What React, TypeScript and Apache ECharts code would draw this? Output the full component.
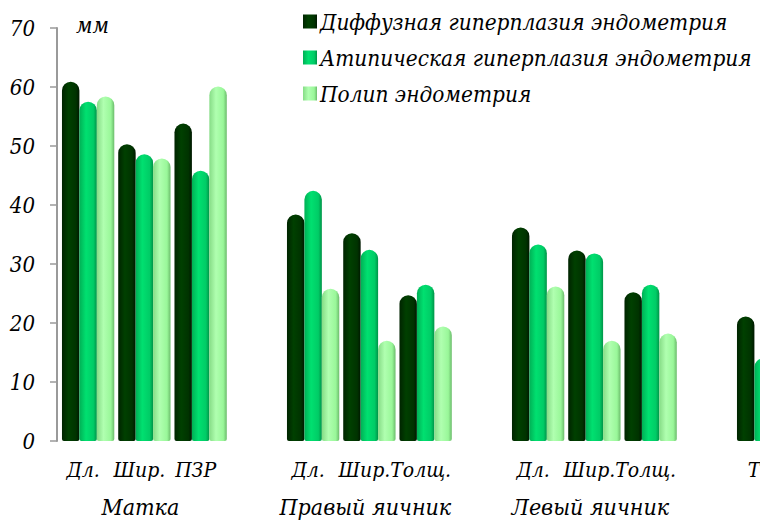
import React, { useEffect, useRef } from "react";
import * as echarts from "echarts";

// Measurements by organ (mm)
const categories = ["Дл.", "Шир.", "ПЗР", "", "Дл.", "Шир.", "Толщ.", "", "Дл.", "Шир.", "Толщ.", "", "Толщ."];
const groups = ["", "Матка", "", "", "", "Правый яичник", "", "", "", "Левый яичник", "", "", ""];
const seriesNames = [
  "Диффузная гиперплазия эндометрия",
  "Атипическая гиперплазия эндометрия",
  "Полип эндометрия",
];
const diffuse = [60.9, 50.3, 53.8, null, 38.4, 35.2, 24.7, null, 36.2, 32.3, 25.2, null, 21.1];
const atypical = [57.5, 48.6, 45.8, null, 42.4, 32.4, 26.5, null, 33.3, 31.8, 26.5, null, 14.0];
const polyp = [58.4, 47.9, 60.1, null, 25.8, 17.0, 19.4, null, 26.2, 17.0, 18.2, null, null];
const yTicks = { min: 0, max: 70, interval: 10 };
const unitLabel = "мм";

const FONT = "DejaVu Serif Condensed";

// horizontal gradient giving each bar a cylinder look
const cylinder = (edge: string, hi: string, mid: string, dark: string) =>
  new echarts.graphic.LinearGradient(0, 0, 1, 0, [
    { offset: 0, color: edge },
    { offset: 0.38, color: hi },
    { offset: 0.8, color: mid },
    { offset: 1, color: dark },
  ]);

export default function App() {
  const ref = useRef<HTMLDivElement>(null);

  useEffect(() => {
    if (!ref.current) return;
    const chart = echarts.init(ref.current, undefined, { renderer: "svg" });
    const fills = [
      cylinder("#002400", "#004000", "#003300", "#001800"),
      cylinder("#00b055", "#00e070", "#00cc66", "#009448"),
      cylinder("#86dc86", "#b0ffb0", "#99f799", "#6cbc6c"),
    ];
    const values = [diffuse, atypical, polyp];
    const lastIdx = categories.length - 1;
    const categoryData = categories.map((c, i) =>
      i === lastIdx ? { value: c, textStyle: { padding: [0, 0, 0, 30] } } : c
    );

    chart.setOption({
      animation: false,
      backgroundColor: "#ffffff",
      legend: {
        orient: "vertical",
        left: 298,
        top: 5,
        itemWidth: 14,
        itemHeight: 14,
        itemGap: 13,
        icon: "rect",
        textStyle: {
          fontFamily: FONT,
          fontStyle: "italic",
          fontSize: 22.4,
          lineHeight: 23,
          color: "#000",
          padding: [0, 0, 0, -2],
        },
        data: seriesNames,
      },
      graphic: [
        {
          type: "text",
          left: 76,
          top: 14,
          style: { text: unitLabel, fontFamily: FONT, fontStyle: "italic", fontSize: 22, fill: "#000" },
        },
      ],
      grid: {
        left: 60,
        top: 28,
        width: 731.25,
        bottom: 82,
        containLabel: false,
        outerBoundsMode: "none",
      },
      xAxis: [
        {
          type: "category",
          data: categoryData,
          position: "bottom",
          axisLine: { show: false },
          axisTick: { show: false },
          axisLabel: {
            interval: 0,
            margin: 18,
            fontFamily: FONT,
            fontStyle: "italic",
            fontSize: 21,
            color: "#000",
            padding: [0, 10, 0, 0],
          },
        },
        {
          type: "category",
          data: groups,
          position: "bottom",
          axisLine: { show: false },
          axisTick: { show: false },
          axisLabel: {
            interval: 0,
            margin: 54,
            fontFamily: FONT,
            fontStyle: "italic",
            fontSize: 23,
            color: "#000",
            padding: [0, 8, 0, 0],
          },
        },
      ],
      yAxis: {
        type: "value",
        min: yTicks.min,
        max: yTicks.max,
        interval: yTicks.interval,
        offset: 3,
        splitLine: { show: false },
        axisLine: { show: true, lineStyle: { color: "#9a9a9a", width: 2 } },
        axisTick: { show: true, length: 7, lineStyle: { color: "#9a9a9a", width: 1.5 } },
        axisLabel: {
          margin: 22,
          fontFamily: FONT,
          fontStyle: "italic",
          fontSize: 22,
          color: "#000",
        },
      },
      series: seriesNames.map((name, i) => ({
        name,
        type: "bar",
        xAxisIndex: 0,
        data: values[i],
        barGap: "0%",
        barCategoryGap: "7%",
        itemStyle: { color: fills[i], borderRadius: [9, 9, 2, 2] },
      })),
    });

    return () => chart.dispose();
  }, []);

  return (
    <div style={{ position: "fixed", left: 0, top: 0, width: 760, height: 523, overflow: "hidden", background: "#fff" }}>
      <div ref={ref} style={{ width: 800, height: 523 }} />
    </div>
  );
}
